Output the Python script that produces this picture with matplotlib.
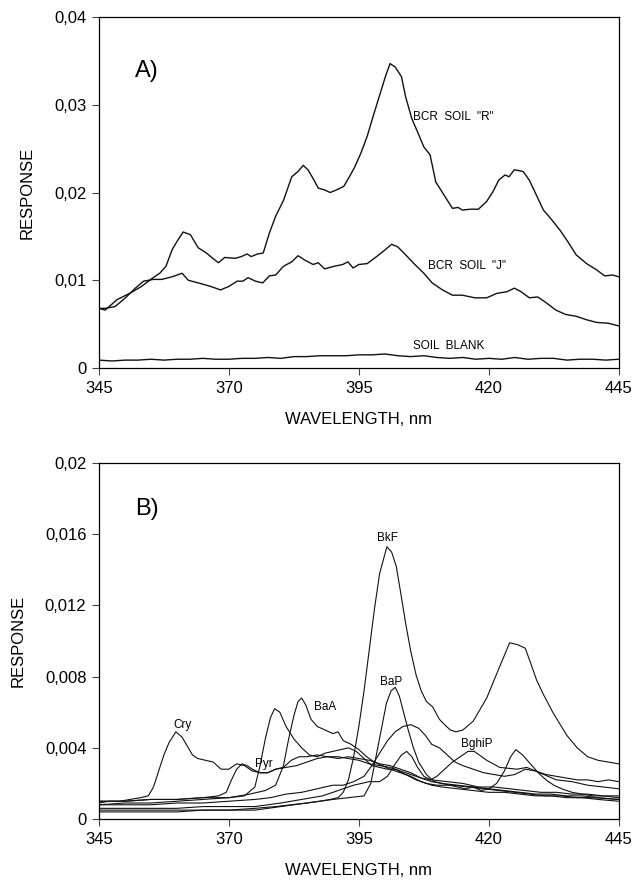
import matplotlib
matplotlib.use("Agg")
import matplotlib.pyplot as plt

plt.rcParams['font.family'] = ['Liberation Sans', 'DejaVu Sans']

# ---- panel A data ----
r_x = [345, 346.2, 348.5, 350.9, 353.2, 355.2, 356.7, 357.9, 359.1, 360.2, 361.2, 362.6, 364.1,
       365.7, 366.9, 368.0, 369.2, 371.2, 372.4, 373.5, 374.3, 375.5, 376.6, 377.8, 379.0, 380.5,
       382.1, 383.3, 384.3, 385.2, 386.2, 387.2, 388.4, 389.5, 390.7, 392.1, 393.0, 394.2, 395.4,
       396.6, 397.7, 398.9, 400.1, 401.0, 402.0, 403.2, 404.0, 405.2, 406.3, 407.5, 408.7, 409.8,
       411.4, 413.0, 414.1, 414.9, 416.5, 418.0, 419.6, 420.8, 421.9, 423.1, 423.9, 424.9, 426.6,
       427.8, 429.0, 430.5, 432.1, 433.7, 435.2, 436.8, 438.8, 440.7, 442.3, 443.8, 445]
r_y = [0.0068, 0.0066, 0.0078, 0.0085, 0.0093, 0.0102, 0.0108, 0.0116, 0.0135, 0.0146, 0.0155,
       0.0152, 0.0137, 0.0131, 0.0125, 0.0120, 0.0126, 0.0125, 0.0127, 0.0130, 0.0127, 0.0130,
       0.0131, 0.0154, 0.0173, 0.0191, 0.0218, 0.0224, 0.0231, 0.0226, 0.0216, 0.0205, 0.0203,
       0.0200, 0.0203, 0.0207, 0.0216, 0.0229, 0.0245, 0.0264, 0.0286, 0.0309, 0.0332, 0.0347,
       0.0343, 0.0332, 0.0309, 0.0284, 0.0269, 0.0252, 0.0243, 0.0212, 0.0197, 0.0182, 0.0183,
       0.0180, 0.0181, 0.0181, 0.0190, 0.0201, 0.0214, 0.0220, 0.0218, 0.0226, 0.0224, 0.0214,
       0.0199, 0.0180, 0.0169, 0.0157, 0.0144, 0.0129, 0.0119, 0.0112, 0.0105, 0.0106, 0.0104]

j_x = [345, 346.2, 348.1, 350.1, 352.0, 353.6, 355.5, 357.1, 359.1, 361.0, 362.2, 364.1, 366.5,
       368.4, 370.0, 371.6, 372.7, 373.7, 375.1, 376.5, 377.8, 379.0, 380.5, 382.1, 383.3, 384.6,
       386.2, 387.2, 388.4, 390.3, 391.9, 392.9, 393.9, 395.0, 396.6, 398.2, 399.7, 401.3, 402.5,
       404.0, 405.6, 407.5, 409.1, 411.1, 413.0, 414.9, 417.3, 419.6, 421.5, 423.5, 424.9, 426.2,
       427.8, 429.4, 430.9, 432.9, 434.8, 436.8, 438.8, 440.7, 443.0, 445]
j_y = [0.0068, 0.0068, 0.0070, 0.0080, 0.0091, 0.0099, 0.0101, 0.0101, 0.0104, 0.0108, 0.0100,
       0.0097, 0.0093, 0.0089, 0.0093, 0.0099, 0.0099, 0.0103, 0.0099, 0.0097, 0.0105, 0.0106,
       0.0116, 0.0121, 0.0128, 0.0123, 0.0118, 0.0120, 0.0113, 0.0116, 0.0118, 0.0121, 0.0114,
       0.0118, 0.0119, 0.0126, 0.0133, 0.0141, 0.0138, 0.0129, 0.0119, 0.0108, 0.0097, 0.0089,
       0.0083, 0.0083, 0.0080, 0.0080, 0.0085, 0.0087, 0.0091, 0.0087, 0.0080, 0.0081, 0.0075,
       0.0066, 0.0061, 0.0059, 0.0055, 0.0052, 0.0051, 0.0048]

blank_x = [345, 347.5, 350, 352.5, 355, 357.5, 360, 362.5, 365, 367.5, 370, 372.5, 375, 377.5,
           380, 382.5, 385, 387.5, 390, 392.5, 395, 397.5, 400, 402.5, 405, 407.5, 410, 412.5,
           415, 417.5, 420, 422.5, 425, 427.5, 430, 432.5, 435, 437.5, 440, 442.5, 445]
blank_y = [0.0009, 0.0008, 0.0009, 0.0009, 0.0010, 0.0009, 0.0010, 0.0010, 0.0011, 0.0010,
           0.0010, 0.0011, 0.0011, 0.0012, 0.0011, 0.0013, 0.0013, 0.0014, 0.0014, 0.0014,
           0.0015, 0.0015, 0.0016, 0.0014, 0.0013, 0.0014, 0.0012, 0.0011, 0.0012, 0.0010,
           0.0011, 0.0010, 0.0012, 0.0010, 0.0011, 0.0011, 0.0009, 0.0010, 0.0010, 0.0009, 0.0010]

# ---- panel B data ----
cry_x = [345, 347, 349, 351, 353, 354.5, 355.5, 356.5, 357.5, 358.5, 359.8, 361, 362, 363, 364,
         365.5, 367, 368.5, 370, 371.5, 373, 374.5, 376, 377.5, 379, 381, 383, 385, 387, 389,
         391, 393, 395, 397, 399, 401, 403, 405, 407, 409, 411, 414, 417, 420, 423, 426, 429,
         432, 435, 438, 441, 445]
cry_y = [0.0009, 0.0010, 0.0010, 0.0011, 0.0012, 0.0013, 0.0018, 0.0027, 0.0036, 0.0043, 0.0049,
         0.0046, 0.0041, 0.0036, 0.0034, 0.0033, 0.0032, 0.0028, 0.0028, 0.0031, 0.0030, 0.0027,
         0.0026, 0.0026, 0.0028, 0.0029, 0.0030, 0.0032, 0.0034, 0.0035, 0.0034, 0.0035, 0.0034,
         0.0033, 0.0031, 0.0030, 0.0028, 0.0026, 0.0023, 0.0021, 0.0020, 0.0019, 0.0018, 0.0017,
         0.0016, 0.0015, 0.0014, 0.0014, 0.0013, 0.0013, 0.0012, 0.0011]

pyr_x = [345, 350, 355, 360, 365, 368, 369.5, 370.5, 371.5, 372.5, 373.5, 374.5, 376, 377.5,
         379, 380.5, 382, 383.5, 385, 387, 389, 391, 393, 395, 397, 399, 401, 403, 405, 407,
         409, 412, 415, 418, 421, 424, 427, 430, 433, 436, 439, 442, 445]
pyr_y = [0.0010, 0.0010, 0.0011, 0.0011, 0.0012, 0.0013, 0.0015, 0.0022, 0.0028, 0.0031, 0.0030,
         0.0028, 0.0026, 0.0026, 0.0028, 0.0029, 0.0033, 0.0035, 0.0035, 0.0036, 0.0035, 0.0035,
         0.0034, 0.0033, 0.0031, 0.0030, 0.0029, 0.0027, 0.0025, 0.0023, 0.0022, 0.0021, 0.0020,
         0.0018, 0.0018, 0.0017, 0.0016, 0.0015, 0.0015, 0.0014, 0.0014, 0.0013, 0.0013]

u1_x = [345, 350, 355, 360, 365, 370, 373, 375, 376, 377, 378, 378.8, 379.8, 381, 382.5, 384,
        385.5, 387, 388.5, 390, 391.5, 393, 394.5, 396, 397.5, 399, 400.5, 402, 404, 406, 408,
        410, 413, 416, 419, 422, 425, 428, 431, 434, 437, 440, 445]
u1_y = [0.0008, 0.0009, 0.0009, 0.0010, 0.0011, 0.0012, 0.0013, 0.0018, 0.0030, 0.0045, 0.0057,
        0.0062, 0.0060, 0.0052, 0.0045, 0.0040, 0.0036, 0.0035, 0.0037, 0.0038, 0.0039, 0.0040,
        0.0038, 0.0034, 0.0030, 0.0029, 0.0028, 0.0028, 0.0025, 0.0022, 0.0020, 0.0019, 0.0019,
        0.0018, 0.0017, 0.0016, 0.0015, 0.0014, 0.0013, 0.0013, 0.0012, 0.0012, 0.0011]

baa_x = [345, 350, 355, 360, 365, 370, 374, 377, 379, 380.5, 381.5, 382.5, 383.3, 384, 384.8,
         385.8, 387, 388.5, 390, 391, 392, 393.5, 395, 396.5, 398, 399.5, 401, 403, 405, 407,
         409, 411, 414, 417, 420, 423, 426, 429, 432, 435, 438, 441, 445]
baa_y = [0.0010, 0.0010, 0.0011, 0.0011, 0.0012, 0.0012, 0.0014, 0.0016, 0.0019, 0.0030, 0.0045,
         0.0058, 0.0066, 0.0068, 0.0064, 0.0056, 0.0052, 0.0050, 0.0048, 0.0049, 0.0044, 0.0042,
         0.0039, 0.0035, 0.0032, 0.0030, 0.0028, 0.0026, 0.0024, 0.0021, 0.0019, 0.0018, 0.0017,
         0.0016, 0.0015, 0.0015, 0.0014, 0.0013, 0.0013, 0.0012, 0.0012, 0.0011, 0.0010]

bkf_x = [345, 350, 355, 360, 365, 370, 375, 379, 382, 385, 387.5, 389.5, 391, 392, 393, 394, 395,
         396, 397, 398, 399, 400.4, 401.3, 402.2, 403, 404, 405, 406, 407, 408, 409.2, 410.5,
         411.5, 412.6, 413.7, 415, 417, 419.6, 422, 424, 425.5, 427, 428, 429.2, 430.5, 432.3,
         435, 437, 439, 441, 443, 445]
bkf_y = [0.0005, 0.0005, 0.0005, 0.0005, 0.0005, 0.0005, 0.0006, 0.0007, 0.0008, 0.0009, 0.0010,
         0.0011, 0.0012, 0.0015, 0.0022, 0.0035, 0.0052, 0.0072, 0.0095, 0.0118, 0.0138, 0.0153,
         0.0150, 0.0142, 0.0128, 0.0110, 0.0094, 0.0081, 0.0072, 0.0066, 0.0063, 0.0056, 0.0053,
         0.0050, 0.0049, 0.0050, 0.0055, 0.0068, 0.0085, 0.0099, 0.0098, 0.0096, 0.0088, 0.0078,
         0.0070, 0.0060, 0.0047, 0.0040, 0.0035, 0.0033, 0.0032, 0.0031]

bap_x = [345, 350, 355, 360, 365, 370, 375, 380, 385, 390, 393, 396, 397.3, 398.3, 399.3, 400.3,
         401.2, 402, 402.8, 403.6, 404.5, 405.5, 406.5, 408, 409.5, 411, 412.5, 414, 415.5, 417,
         418.5, 420, 421.5, 423, 424.2, 425.2, 426.5, 428, 429.5, 431, 432.5, 434, 436, 438, 440,
         442, 445]
bap_y = [0.0004, 0.0004, 0.0004, 0.0004, 0.0005, 0.0005, 0.0005, 0.0007, 0.0009, 0.0011, 0.0012,
         0.0013, 0.0020, 0.0035, 0.0050, 0.0065, 0.0072, 0.0074, 0.0069, 0.0060, 0.0050, 0.0040,
         0.0032, 0.0025, 0.0021, 0.0020, 0.0019, 0.0018, 0.0017, 0.0018, 0.0016, 0.0017, 0.0020,
         0.0027, 0.0035, 0.0039, 0.0036, 0.0031, 0.0026, 0.0022, 0.0019, 0.0017, 0.0015, 0.0014,
         0.0013, 0.0013, 0.0012]

bghip_x = [345, 350, 355, 360, 365, 370, 375, 380, 384, 388, 391, 394, 397, 399, 400.5, 402,
           403.2, 404.2, 405.2, 406.3, 407.5, 408.8, 410, 411.5, 413, 414.5, 416, 417.2, 419.6,
           422.1, 425.4, 427.3, 429.8, 433, 436, 439, 442, 445]
bghip_y = [0.0006, 0.0006, 0.0006, 0.0006, 0.0007, 0.0007, 0.0007, 0.0009, 0.0011, 0.0013,
           0.0016, 0.0019, 0.0021, 0.0021, 0.0024, 0.0031, 0.0036, 0.0038, 0.0035, 0.0029, 0.0024,
           0.0022, 0.0024, 0.0028, 0.0032, 0.0035, 0.0038, 0.0038, 0.0033, 0.0029, 0.0028, 0.0029,
           0.0026, 0.0022, 0.0021, 0.0019, 0.0018, 0.0017]

u2_x = [345, 350, 355, 360, 365, 370, 375, 378, 381, 384, 387, 390, 392, 394, 396, 397.5, 399,
        400.5, 402, 403.5, 405, 406.5, 407.8, 409, 410.5, 412, 413.5, 415, 417, 419, 421, 423,
        425, 427, 429, 431, 433, 435, 437, 439, 441, 443, 445]
u2_y = [0.0008, 0.0008, 0.0008, 0.0009, 0.0009, 0.0010, 0.0011, 0.0012, 0.0014, 0.0015, 0.0017,
        0.0019, 0.0019, 0.0021, 0.0024, 0.0030, 0.0037, 0.0044, 0.0049, 0.0052, 0.0053, 0.0051,
        0.0047, 0.0042, 0.0040, 0.0036, 0.0032, 0.0030, 0.0028, 0.0026, 0.0025, 0.0024, 0.0025,
        0.0028, 0.0027, 0.0025, 0.0024, 0.0023, 0.0022, 0.0022, 0.0021, 0.0022, 0.0021]

x_ticks = [345, 370, 395, 420, 445]
a_yticks = [0, 0.01, 0.02, 0.03, 0.04]
a_ylabels = ['0', '0,01', '0,02', '0,03', '0,04']
b_yticks = [0, 0.004, 0.008, 0.012, 0.016, 0.02]
b_ylabels = ['0', '0,004', '0,008', '0,012', '0,016', '0,02']

fig = plt.figure(figsize=(6.34, 8.84), dpi=100)
ax1 = fig.add_axes([0.156, 0.5837, 0.820, 0.397])
ax2 = fig.add_axes([0.156, 0.0735, 0.820, 0.4027])


def style(ax, yticks, ylabels, ymax):
    ax.set_xlim(345, 445)
    ax.set_ylim(0, ymax)
    ax.set_xticks(x_ticks)
    ax.set_xticklabels([str(t) for t in x_ticks])
    ax.set_yticks(yticks)
    ax.set_yticklabels(ylabels)
    ax.tick_params(direction='out', length=5, width=0.8, labelsize=12, pad=4, color='#444444')
    for s in ax.spines.values():
        s.set_linewidth(0.9)
    ax.set_xlabel('WAVELENGTH, nm', fontsize=12, labelpad=12)
    ax.set_ylabel('RESPONSE', fontsize=12, labelpad=14)


lc = '#111111'
ax1.plot(r_x, r_y, color=lc, lw=1.0)
ax1.plot(j_x, j_y, color=lc, lw=1.0)
ax1.plot(blank_x, blank_y, color=lc, lw=1.0)
style(ax1, a_yticks, a_ylabels, 0.04)
ax1.text(352, 0.0339, 'A)', fontsize=17, va='center')
ax1.text(405.5, 0.0286, 'BCR  SOIL  "R"', fontsize=8.5, va='center')
ax1.text(408.3, 0.0116, 'BCR  SOIL  "J"', fontsize=8.5, va='center')
ax1.text(405.5, 0.0025, 'SOIL  BLANK', fontsize=8.5, va='center')

for xs, ys in [(cry_x, cry_y), (pyr_x, pyr_y), (u1_x, u1_y), (baa_x, baa_y),
               (bkf_x, bkf_y), (bap_x, bap_y), (bghip_x, bghip_y), (u2_x, u2_y)]:
    ax2.plot(xs, ys, color=lc, lw=0.8)
style(ax2, b_yticks, b_ylabels, 0.02)
ax2.text(352, 0.0174, 'B)', fontsize=17, va='center')
ax2.text(361, 0.0053, 'Cry', fontsize=8.5, ha='center', va='center')
ax2.text(376.7, 0.0031, 'Pyr', fontsize=8.5, ha='center', va='center')
ax2.text(388.6, 0.0063, 'BaA', fontsize=8.5, ha='center', va='center')
ax2.text(400.6, 0.0158, 'BkF', fontsize=8.5, ha='center', va='center')
ax2.text(401.2, 0.0077, 'BaP', fontsize=8.5, ha='center', va='center')
ax2.text(417.6, 0.0042, 'BghiP', fontsize=8.5, ha='center', va='center')

fig.savefig('out.png', dpi=100)
